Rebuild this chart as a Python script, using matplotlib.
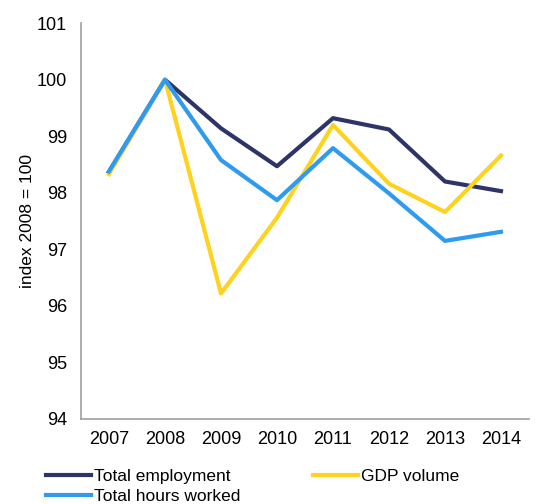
import matplotlib.pyplot as plt

plt.rcParams["font.family"] = ["Liberation Sans", "DejaVu Sans"]

years = ["2007", "2008", "2009", "2010", "2011", "2012", "2013", "2014"]
total_employment = [98.37, 100.0, 99.14, 98.47, 99.32, 99.12, 98.20, 98.03]
gdp_volume = [98.33, 100.0, 96.22, 97.56, 99.20, 98.16, 97.66, 98.66]
hours_worked = [98.38, 100.0, 98.58, 97.87, 98.79, 97.99, 97.15, 97.31]

fig = plt.figure(figsize=(5.45, 5.04), dpi=100)
ax = fig.add_axes([0.1486, 0.1687, 0.822, 0.7853])

x = range(len(years))
l_emp, = ax.plot(x, total_employment, color="#2E3468", lw=3, label="Total employment")
l_gdp, = ax.plot(x, gdp_volume, color="#FFD21E", lw=3, label="GDP volume")
l_hrs, = ax.plot(x, hours_worked, color="#2E9BEF", lw=3, label="Total hours worked")

ax.set_xlim(-0.5, len(years) - 0.5)
ax.set_ylim(94, 101)
ax.set_yticks(range(94, 102))
ax.set_xticks(list(x))
ax.set_xticklabels(years)
ax.tick_params(axis="both", length=0, labelsize=13, colors="#000000")
ax.tick_params(axis="y", pad=10)
ax.tick_params(axis="x", pad=9)

for side in ["top", "right"]:
    ax.spines[side].set_visible(False)
for side in ["left", "bottom"]:
    ax.spines[side].set_color("#A0A0A0")
    ax.spines[side].set_linewidth(1.2)

ax.set_ylabel("index 2008 = 100", fontsize=12.5, labelpad=1.5)

# column-wise fill: emp, hours in column 1; gdp in column 2
fig.legend([l_emp, l_hrs, l_gdp],
           ["Total employment", "Total hours worked", "GDP volume"],
           loc="upper left", bbox_to_anchor=(0.085, 0.07), ncol=2,
           frameon=False, fontsize=12.5, handlelength=2.6, handletextpad=0.15,
           columnspacing=4.2, borderpad=0, borderaxespad=0, labelspacing=0.3)

fig.savefig("out.png", dpi=100)
